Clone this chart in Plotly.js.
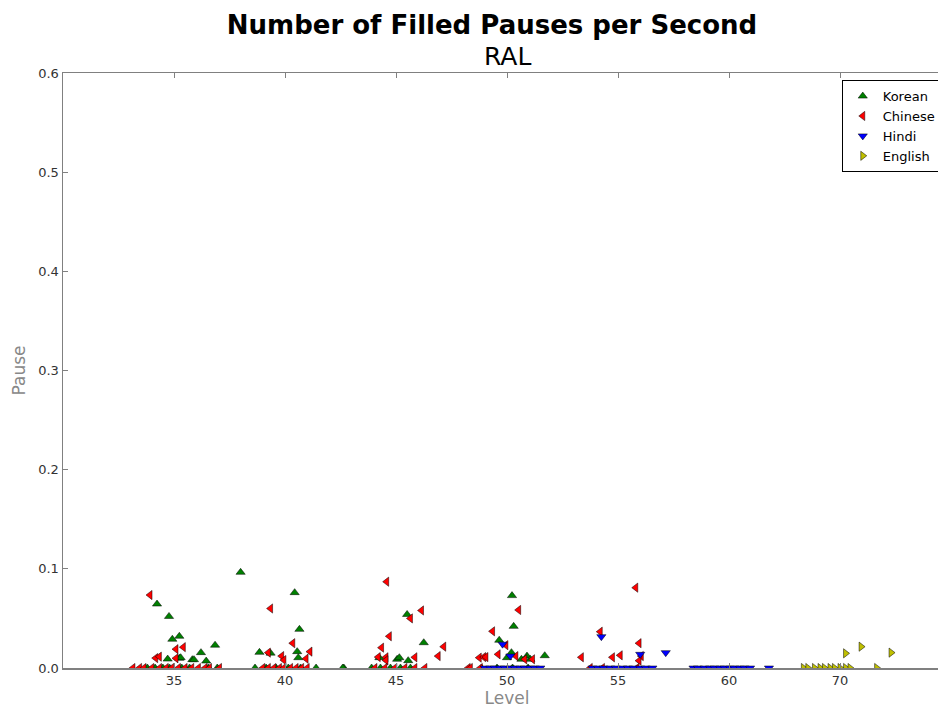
<!DOCTYPE html>
<html>
<head>
<meta charset="utf-8">
<script src="https://cdn.plot.ly/plotly-3.0.1.min.js"></script>
<style>
html, body { margin: 0; padding: 0; overflow: hidden; background: #fff; }
#chart { width: 984px; height: 711px; }
</style>
</head>
<body>
<div id="chart"></div>
<script>
// Category labels of the x axis (positions 0..6)
const levels = ['35', '40', '45', '50', '55', '60', '70'];
const yTicks = [0, 0.1, 0.2, 0.3, 0.4, 0.5, 0.6];

// Korean (jittered level position, pauses per second)
const koreanX = [-0.153, -0.045, -0.015, 0.048, -0.057, 0.048, 0.06, 0.165, 0.18, 0.243, 0.29, 0.37, 0.60,
  1.087, 1.13, 0.77, 0.87, 1.11, 1.12,
  2.10, 2.25, 1.85, 2.01, 2.03, 2.11,
  3.045, 3.06, 2.93, 3.0, 3.04, 3.13, 3.18, 3.21, 3.34,
  -0.24, -0.17, -0.10, -0.04, 0.07, 0.14, 0.31, 0.39,
  0.73, 0.83, 0.92, 1.03, 1.14, 1.28, 1.53,
  1.52, 1.78, 1.86, 1.95, 2.04, 2.13,
  2.77, 2.91, 3.05, 3.19];
const koreanPause = [0.0645, 0.052, 0.029, 0.032, 0.009, 0.0098, 0.0104, 0.0084, 0.0084, 0.0155, 0.007, 0.023, 0.0965,
  0.076, 0.039, 0.0158, 0.015, 0.0165, 0.0104,
  0.054, 0.0255, 0.0104, 0.0088, 0.0104, 0.0074,
  0.073, 0.042, 0.028, 0.0104, 0.0155, 0.0088, 0.012, 0.0088, 0.0124,
  0, 0, 0, 0, 0, 0, 0, 0,
  0, 0, 0, 0, 0, 0, 0,
  0, 0, 0, 0, 0, 0,
  0, 0, 0, 0];

// Chinese
const chineseX = [-0.216, -0.165, -0.132, 0.018, 0.084, 0.018,
  0.87, 0.85, 0.97, 0.99, 1.07, 1.19, 1.225,
  1.916, 2.23, 2.13, 1.94, 1.87, 1.84, 1.91, 1.91, 2.17, 2.38, 2.43,
  3.105, 2.87, 2.99, 2.92, 2.75, 2.79, 2.81, 3.08, 3.16, 3.23,
  3.67, 4.16, 3.84, 4.19, 3.95, 4.02, 4.21, 4.19,
  -0.37, -0.31, -0.27, -0.20, -0.13, -0.07, -0.02, 0.04, 0.10, 0.16, 0.22, 0.28, 0.32, 0.41,
  0.80, 0.85, 0.90, 0.95, 0.99, 1.05, 1.10, 1.15, 1.20,
  1.81, 1.90, 1.99, 2.08, 2.17, 2.26, 2.65,
  2.67, 2.76,
  3.75, 3.86, 4.17];
const chinesePause = [0.0736, 0.010, 0.0114, 0.019, 0.021, 0.0098,
  0.060, 0.0155, 0.012, 0.008, 0.025, 0.0094, 0.0165,
  0.087, 0.058, 0.050, 0.032, 0.0205, 0.011, 0.0108, 0.0078, 0.0108, 0.012, 0.0215,
  0.0585, 0.037, 0.023, 0.0138, 0.0104, 0.011, 0.011, 0.012, 0.0088, 0.0088,
  0.0108, 0.081, 0.0366, 0.025, 0.0108, 0.0128, 0.012, 0.0074,
  0, 0, 0, 0, 0, 0, 0, 0, 0, 0, 0, 0, 0, 0,
  0, 0, 0, 0, 0, 0, 0, 0, 0,
  0, 0, 0, 0, 0, 0, 0,
  0, 0,
  0, 0, 0];

// Hindi
const hindiX = [2.96, 3.03, 3.85, 4.2, 4.43,
  2.80, 2.85, 2.89, 2.94, 2.98, 3.03, 3.07, 3.12, 3.16, 3.21, 3.25, 3.30,
  3.77, 3.82, 3.87, 3.93, 3.98, 4.04, 4.09, 4.14, 4.20, 4.25, 4.31,
  4.68, 4.72, 4.78, 4.83, 4.87, 4.92, 4.96, 5.01, 5.05, 5.10, 5.14, 5.19, 5.36];
const hindiPause = [0.024, 0.012, 0.0316, 0.0138, 0.0155,
  0, 0, 0, 0, 0, 0, 0, 0, 0, 0, 0, 0,
  0, 0, 0, 0, 0, 0, 0, 0, 0, 0, 0,
  0, 0, 0, 0, 0, 0, 0, 0, 0, 0, 0, 0, 0];

// English
const englishX = [6.05, 6.19, 6.46,
  5.67, 5.71, 5.77, 5.82, 5.86, 5.91, 5.95, 6.0, 6.05, 6.09, 6.33];
const englishPause = [0.0148, 0.0215, 0.0155,
  0, 0, 0, 0, 0, 0, 0, 0, 0, 0, 0];

const series = [
  {name: 'Korean', x: koreanX, y: koreanPause, symbol: 'triangle-up', color: '#008000'},
  {name: 'Chinese', x: chineseX, y: chinesePause, symbol: 'triangle-left', color: '#ff0000'},
  {name: 'Hindi', x: hindiX, y: hindiPause, symbol: 'triangle-down', color: '#0000ff'},
  {name: 'English', x: englishX, y: englishPause, symbol: 'triangle-right', color: '#bfbf00'}
];

const traces = series.map(s => ({
  type: 'scatter',
  mode: 'markers',
  name: s.name,
  x: s.x,
  y: s.y,
  cliponaxis: true,
  marker: {symbol: s.symbol, size: 8, color: s.color, line: {color: '#000', width: 0.5}}
}));

const font = 'DejaVu Sans, sans-serif';
const axisCommon = {
  showgrid: false,
  zeroline: false,
  showline: true,
  linecolor: '#808080',
  linewidth: 1.5,
  mirror: 'ticks',
  ticks: 'inside',
  ticklen: 5,
  tickcolor: '#808080',
  tickwidth: 1,
  tickfont: {family: font, size: 13, color: '#333'}
};

const layout = {
  width: 984,
  height: 711,
  margin: {l: 63, r: 33, t: 73, b: 43},
  paper_bgcolor: '#fff',
  plot_bgcolor: '#fff',
  showlegend: true,
  title: {
    text: '<b>Number of Filled Pauses per Second</b>',
    font: {family: font, size: 26, color: '#000'},
    x: 0.5, xref: 'container', xanchor: 'center',
    y: 1 - 25 / 711, yref: 'container', yanchor: 'middle'
  },
  annotations: [{
    text: 'RAL', xref: 'paper', yref: 'paper', x: 0.5, y: 1,
    xanchor: 'center', yanchor: 'bottom', yshift: 0, showarrow: false,
    font: {family: font, size: 25, color: '#000'}
  }],
  xaxis: Object.assign({}, axisCommon, {
    range: [-1, 7],
    tickmode: 'array',
    tickvals: levels.map((_, i) => i),
    ticktext: levels,
    title: {text: 'Level', font: {family: font, size: 17, color: '#888'}, standoff: 4}
  }),
  yaxis: Object.assign({}, axisCommon, {
    range: [0, 0.6],
    tickmode: 'array',
    tickvals: yTicks,
    ticktext: yTicks.map(v => v.toFixed(1)),
    title: {text: 'Pause', font: {family: font, size: 17, color: '#888'}, standoff: 8}
  }),
  legend: {
    x: 0.877, y: 0.988, xanchor: 'left', yanchor: 'top',
    bgcolor: '#fff', bordercolor: '#000', borderwidth: 1,
    font: {family: font, size: 13, color: '#000'},
    itemwidth: 30, tracegroupgap: 0
  }
};

Plotly.newPlot('chart', traces, layout, {displayModeBar: false, staticPlot: true});
</script>
</body>
</html>
